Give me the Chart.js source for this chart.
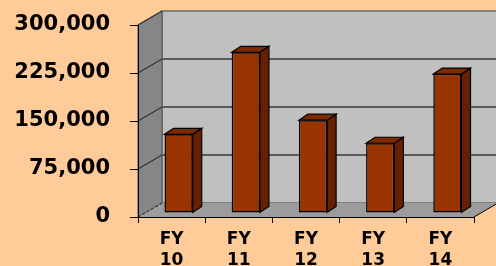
<!DOCTYPE html>
<html>
<head>
<meta charset="utf-8">
<script src="https://cdn.jsdelivr.net/npm/chart.js@4.4.0/dist/chart.umd.min.js"></script>
<style>
  html, body { margin: 0; padding: 0; background: #FFCC99; }
  canvas { display: block; }
</style>
</head>
<body>
<canvas id="fyChart" width="496" height="266"></canvas>
<script>
const categories = [['FY', '10'], ['FY', '11'], ['FY', '12'], ['FY', '13'], ['FY', '14']];
const amounts = [123000, 251000, 145000, 109000, 217000];
const yTicks = [0, 75000, 150000, 225000, 300000];

// depth of the box and of the bars (3D look)
const WALL_DX = 24, WALL_DY = -14;
const BAR_SHIFT_X = 7, BAR_SHIFT_Y = -4;
const BAR_DX = 9, BAR_DY = -6;

function poly(ctx, pts, fill, stroke, lw) {
    ctx.beginPath();
    ctx.moveTo(pts[0][0], pts[0][1]);
    for (let i = 1; i < pts.length; i++) ctx.lineTo(pts[i][0], pts[i][1]);
    ctx.closePath();
    if (fill) { ctx.fillStyle = fill; ctx.fill(); }
    if (stroke) { ctx.strokeStyle = stroke; ctx.lineWidth = lw || 1; ctx.stroke(); }
}

const box3d = {
    id: 'box3d',
    beforeDraw(chart) {
        const ctx = chart.ctx;
        const a = chart.chartArea;
        const y = chart.scales.y;
        const L = a.left, R = a.right, T = a.top, B = a.bottom;
        ctx.save();
        // back wall
        poly(ctx, [[L + WALL_DX, T + WALL_DY], [R + WALL_DX, T + WALL_DY], [R + WALL_DX, B + WALL_DY], [L + WALL_DX, B + WALL_DY]], '#C0C0C0', '#6a6a6a', 1.5);
        // left wall
        poly(ctx, [[L, B], [L, T], [L + WALL_DX, T + WALL_DY], [L + WALL_DX, B + WALL_DY]], '#868686', '#555', 1);
        // floor
        poly(ctx, [[L, B], [R, B], [R + WALL_DX, B + WALL_DY], [L + WALL_DX, B + WALL_DY]], '#9c9c9c', null);
        ctx.strokeStyle = '#000';
        ctx.lineWidth = 1;
        ctx.beginPath();
        ctx.moveTo(R, B);
        ctx.lineTo(R + WALL_DX, B + WALL_DY);
        ctx.stroke();
        // grid lines on the walls
        yTicks.forEach(v => {
            const py = y.getPixelForValue(v);
            ctx.strokeStyle = '#5a5a5a';
            ctx.lineWidth = 2;
            if (v > 0 && v < 300000) {
                ctx.beginPath();
                ctx.moveTo(L + WALL_DX, py + WALL_DY);
                ctx.lineTo(R + WALL_DX, py + WALL_DY);
                ctx.stroke();
            }
            ctx.lineWidth = 1.2;
            ctx.strokeStyle = '#333';
            if (v === 0) ctx.setLineDash([3, 2]);
            ctx.beginPath();
            ctx.moveTo(L, py);
            ctx.lineTo(L + WALL_DX, py + WALL_DY);
            ctx.stroke();
            ctx.setLineDash([]);
        });
        ctx.restore();
    },
    beforeDatasetsDraw(chart) {
        chart.ctx.save();
        chart.ctx.translate(BAR_SHIFT_X, BAR_SHIFT_Y);
    },
    afterDatasetsDraw(chart) {
        const ctx = chart.ctx;
        chart.getDatasetMeta(0).data.forEach(bar => {
            const l = bar.x - bar.width / 2, r = bar.x + bar.width / 2;
            const t = bar.y, b = bar.base;
            poly(ctx, [[r, t], [r + BAR_DX, t + BAR_DY], [r + BAR_DX, b + BAR_DY], [r, b]], '#662200', '#000', 1.2);
            poly(ctx, [[l, t], [l + BAR_DX, t + BAR_DY], [r + BAR_DX, t + BAR_DY], [r, t]], '#7d2a00', '#000', 1.2);
        });
        ctx.restore();
    }
};

new Chart(document.getElementById('fyChart'), {
    type: 'bar',
    data: {
        labels: categories,
        datasets: [{
            data: amounts,
            backgroundColor: '#993300',
            borderColor: '#000',
            borderWidth: 1.5,
            borderSkipped: false,
            categoryPercentage: 1,
            barPercentage: 0.42
        }]
    },
    options: {
        responsive: false,
        animation: false,
        layout: { padding: { left: 0, top: 25, right: 22, bottom: 0 } },
        plugins: { legend: { display: false }, tooltip: { enabled: false } },
        scales: {
            x: {
                afterFit: s => { s.height = 49; s.paddingLeft = 0; s.paddingRight = 0; },
                grid: { drawOnChartArea: false, drawTicks: true, tickLength: 6, color: '#000' },
                border: { display: true, color: '#000', width: 1 },
                ticks: {
                    color: '#000',
                    padding: 7,
                    maxRotation: 0,
                    font: { family: 'DejaVu Sans', weight: 'bold', size: 17, lineHeight: 1.18 }
                }
            },
            y: {
                min: 0,
                max: 300000,
                afterFit: s => { s.width = 138; s.paddingTop = 0; s.paddingBottom = 0; },
                afterBuildTicks: s => { s.ticks = yTicks.map(v => ({ value: v })); },
                grid: { drawOnChartArea: false, drawTicks: true, tickLength: 8, color: '#000' },
                border: { display: true, color: '#000', width: 1 },
                ticks: {
                    color: '#000',
                    padding: 20,
                    callback: v => v.toLocaleString('en-US'),
                    font: { family: 'DejaVu Sans', weight: 'bold', size: 21 }
                }
            }
        }
    },
    plugins: [box3d]
});
</script>
</body>
</html>
